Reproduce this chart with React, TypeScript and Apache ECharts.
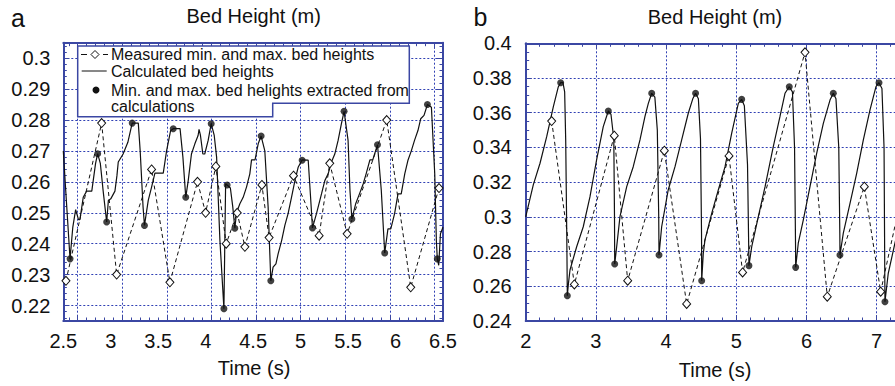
import React, { useEffect, useRef } from "react";
import * as echarts from "echarts";

// ---------- Panel a (left) ----------
const calcLeftT = [2.5, 2.53, 2.571, 2.6, 2.63, 2.66, 2.675, 2.71, 2.746, 2.8, 2.84, 2.862, 2.89, 2.92, 2.957, 2.975, 3.0, 3.044, 3.065, 3.079, 3.13, 3.18, 3.215, 3.226, 3.29, 3.31, 3.34, 3.355, 3.395, 3.43, 3.465, 3.553, 3.588, 3.63, 3.658, 3.73, 3.76, 3.79, 3.816, 3.85, 3.886, 3.92, 3.93, 3.945, 3.97, 3.99, 4.026, 4.058, 4.09, 4.115, 4.15, 4.192, 4.21, 4.226, 4.26, 4.285, 4.307, 4.325, 4.36, 4.395, 4.43, 4.465, 4.483, 4.52, 4.553, 4.584, 4.623, 4.658, 4.686, 4.71, 4.74, 4.763, 4.8, 4.834, 4.868, 4.904, 4.94, 4.974, 5.016, 5.08, 5.105, 5.125, 5.167, 5.22, 5.255, 5.29, 5.325, 5.36, 5.395, 5.43, 5.458, 5.5, 5.52, 5.54, 5.58, 5.62, 5.66, 5.69, 5.73, 5.76, 5.81, 5.85, 5.886, 5.92, 5.95, 5.99, 6.026, 6.06, 6.097, 6.13, 6.167, 6.2, 6.236, 6.265, 6.3, 6.336, 6.378, 6.413, 6.43, 6.44, 6.455, 6.473, 6.5];
const calcLeftV = [0.27, 0.255, 0.2351, 0.2453, 0.251, 0.2478, 0.2478, 0.255, 0.257, 0.257, 0.266, 0.2691, 0.266, 0.257, 0.247, 0.254, 0.2545, 0.257, 0.262, 0.2664, 0.269, 0.2728, 0.2775, 0.279, 0.279, 0.27, 0.252, 0.2459, 0.254, 0.2583, 0.2628, 0.2628, 0.27, 0.2765, 0.2772, 0.2772, 0.268, 0.255, 0.2604, 0.269, 0.2723, 0.275, 0.277, 0.275, 0.269, 0.269, 0.2734, 0.2788, 0.275, 0.268, 0.241, 0.219, 0.2594, 0.259, 0.258, 0.252, 0.245, 0.25, 0.2529, 0.255, 0.2583, 0.2626, 0.2671, 0.2671, 0.2723, 0.2748, 0.27, 0.2518, 0.228, 0.2324, 0.2335, 0.2367, 0.241, 0.2459, 0.2497, 0.255, 0.2604, 0.2647, 0.2671, 0.267, 0.255, 0.2451, 0.2497, 0.2561, 0.2604, 0.2626, 0.2664, 0.269, 0.2734, 0.2788, 0.2828, 0.2734, 0.2572, 0.248, 0.2529, 0.2561, 0.2594, 0.2626, 0.2671, 0.2671, 0.272, 0.2572, 0.237, 0.2448, 0.2448, 0.2497, 0.2561, 0.2561, 0.2626, 0.2669, 0.2701, 0.2734, 0.2766, 0.2804, 0.2815, 0.285, 0.2841, 0.2626, 0.241, 0.2351, 0.233, 0.2432, 0.2453];

const measLeftT = [2.528, 2.904, 3.062, 3.43, 3.623, 3.914, 3.999, 4.107, 4.216, 4.332, 4.413, 4.592, 4.668, 4.925, 5.195, 5.307, 5.49, 5.907, 6.16, 6.458];
const measLeftV = [0.228, 0.279, 0.23, 0.264, 0.2275, 0.26, 0.25, 0.265, 0.24, 0.25, 0.239, 0.259, 0.242, 0.262, 0.2426, 0.266, 0.2432, 0.28, 0.2259, 0.258];

const extLeftT = [2.571, 2.862, 2.957, 3.226, 3.355, 3.658, 3.79, 4.058, 4.192, 4.226, 4.307, 4.584, 4.686, 5.016, 5.125, 5.458, 5.54, 5.81, 5.886, 6.336, 6.44];
const extLeftV = [0.2351, 0.2691, 0.247, 0.279, 0.2459, 0.2772, 0.255, 0.2788, 0.219, 0.259, 0.245, 0.2748, 0.228, 0.267, 0.2451, 0.2828, 0.248, 0.272, 0.237, 0.285, 0.2351];

// ---------- Panel b (right) ----------
const calcRightT = [2.0, 2.108, 2.204, 2.299, 2.394, 2.465, 2.498, 2.53, 2.555, 2.57, 2.585, 2.593, 2.61, 2.631, 2.726, 2.82, 2.916, 3.01, 3.105, 3.177, 3.215, 3.255, 3.265, 3.268, 3.296, 3.343, 3.439, 3.532, 3.628, 3.7, 3.747, 3.795, 3.84, 3.875, 3.895, 3.899, 3.937, 4.03, 4.127, 4.222, 4.316, 4.38, 4.42, 4.46, 4.49, 4.505, 4.507, 4.53, 4.554, 4.65, 4.744, 4.84, 4.934, 5.029, 5.077, 5.115, 5.16, 5.178, 5.18, 5.22, 5.314, 5.41, 5.527, 5.622, 5.694, 5.755, 5.8, 5.83, 5.845, 5.846, 5.883, 5.955, 6.05, 6.145, 6.24, 6.335, 6.382, 6.42, 6.46, 6.475, 6.477, 6.524, 6.62, 6.715, 6.81, 6.905, 6.99, 7.033, 7.075, 7.105, 7.115, 7.118, 7.165, 7.26, 7.35];
const calcRightV = [0.3, 0.3184, 0.3309, 0.3462, 0.3635, 0.375, 0.3773, 0.3775, 0.372, 0.344, 0.29, 0.2546, 0.262, 0.2694, 0.2828, 0.2943, 0.3116, 0.3328, 0.352, 0.361, 0.359, 0.345, 0.3, 0.2728, 0.2828, 0.3001, 0.3174, 0.3289, 0.3443, 0.358, 0.3654, 0.3712, 0.369, 0.35, 0.3, 0.278, 0.2943, 0.3155, 0.3289, 0.3443, 0.3597, 0.368, 0.3712, 0.368, 0.345, 0.29, 0.2632, 0.279, 0.2867, 0.302, 0.3155, 0.3289, 0.3481, 0.3654, 0.3677, 0.364, 0.33, 0.28, 0.2719, 0.2828, 0.3001, 0.3174, 0.3404, 0.3577, 0.3712, 0.375, 0.372, 0.34, 0.28, 0.2709, 0.2848, 0.2982, 0.3174, 0.3366, 0.3539, 0.3673, 0.3712, 0.368, 0.34, 0.29, 0.278, 0.2905, 0.3078, 0.3251, 0.3443, 0.3616, 0.375, 0.3773, 0.374, 0.34, 0.27, 0.2511, 0.2675, 0.2848, 0.3];

const measRightT = [2.37, 2.693, 3.262, 3.453, 3.975, 4.293, 4.896, 5.09, 5.979, 6.296, 6.824, 7.057, 7.45];
const measRightV = [0.3552, 0.2611, 0.3468, 0.2632, 0.3381, 0.2498, 0.3351, 0.268, 0.3948, 0.254, 0.3174, 0.2569, 0.33];

const extRightT = [2.498, 2.593, 3.177, 3.268, 3.795, 3.899, 4.42, 4.507, 5.077, 5.18, 5.755, 5.846, 6.382, 6.477, 7.033, 7.118];
const extRightV = [0.3773, 0.2546, 0.361, 0.2728, 0.3712, 0.278, 0.3712, 0.2632, 0.3677, 0.2719, 0.375, 0.2709, 0.3712, 0.278, 0.3773, 0.2511];

// ---------- texts ----------
const panelLetters = ["a", "b"];
const panelTitle = "Bed Height (m)";
const xTitle = "Time (s)";
const legendTexts = [
  "Measured min. and max. bed heights",
  "Calculated bed heights",
  "Min. and max. bed helights extracted from",
  "calculations",
];

const FONT = "Liberation Sans, Arial, Helvetica, sans-serif";
const FRAME = "#3b47a3";
const GRID = "#3040b4";
const INK = "#111111";

const zip = (t: number[], v: number[]) => t.map((x, i) => [x, v[i]]);

export default function App() {
  const ref = useRef<HTMLDivElement>(null);
  useEffect(() => {
    if (!ref.current) return;
    const chart = echarts.init(ref.current, null, { renderer: "svg" });

    const frameLine = { show: true, onZero: false, lineStyle: { color: FRAME, width: 2 } };
    const tick = { show: true, inside: true, length: 6, lineStyle: { color: FRAME, width: 1 } };
    const minor = (n: number) => ({ show: true, splitNumber: n, length: 3.5, lineStyle: { color: FRAME, width: 1 } });
    const dotted = { show: true, showMinLine: false, showMaxLine: false, lineStyle: { color: GRID, width: 1, type: [2, 2] } };
    const label = { fontSize: 20, color: INK, fontFamily: FONT };

    const hundredths = (v: number) => {
      const k = v * 100;
      if (Math.abs(k - Math.round(k)) > 1e-6) return "";
      return String(+v.toFixed(2));
    };

    const option: any = {
      animation: false,
      backgroundColor: "#ffffff",
      grid: [
        { left: 63.3, top: 42.7, width: 379.7, height: 278.3 },
        { left: 525.7, top: 43.3, width: 369.3, height: 277.7 },
      ],
      xAxis: [
        {
          gridIndex: 0, type: "value", position: "bottom", min: 2.5, max: 6.5, interval: 0.5,
          axisLine: frameLine, axisTick: { show: false }, splitLine: { show: false },
          axisLabel: { ...label, margin: 10 },
        },
        {
          gridIndex: 0, type: "value", position: "bottom", min: -0.3229, max: 8.19, splitNumber: 8,
          axisLine: { show: false, onZero: false }, axisLabel: { show: false }, axisTick: tick, minorTick: minor(5),
          splitLine: dotted,
        },
        {
          gridIndex: 0, type: "value", position: "top", min: -0.3229, max: 8.19, splitNumber: 8,
          axisLine: frameLine, axisLabel: { show: false }, axisTick: tick, minorTick: minor(5),
          splitLine: { show: false },
        },
        {
          gridIndex: 1, type: "value", position: "bottom", min: 2, max: 7.261, interval: 1,
          axisLine: frameLine, axisTick: tick, minorTick: minor(5), splitLine: dotted,
          axisLabel: { ...label, margin: 10, showMaxLabel: false, formatter: (v: number) => (Number.isInteger(v) ? String(v) : "") },
        },
        {
          gridIndex: 1, type: "value", position: "top", min: 2, max: 7.261, interval: 1,
          axisLine: frameLine, axisTick: tick, minorTick: minor(5), splitLine: { show: false },
          axisLabel: { show: false },
        },
      ],
      yAxis: [
        {
          gridIndex: 0, type: "value", position: "left", min: 0.215, max: 0.305, splitNumber: 9,
          axisLine: frameLine, axisTick: tick, minorTick: minor(5), splitLine: dotted,
          axisLabel: { ...label, margin: 13, padding: [0, 0, 4, 0], formatter: hundredths },
        },
        {
          gridIndex: 0, type: "value", position: "right", min: 0.215, max: 0.305, splitNumber: 9,
          axisLine: frameLine, axisTick: tick, minorTick: minor(5), splitLine: { show: false },
          axisLabel: { show: false },
        },
        {
          gridIndex: 1, type: "value", position: "left", min: 0.24, max: 0.4, interval: 0.02,
          axisLine: frameLine, axisTick: tick, minorTick: minor(4), splitLine: dotted,
          axisLabel: { ...label, margin: 14, formatter: (v: number) => String(+v.toFixed(2)) },
        },
      ],
      series: [
        {
          name: "Calculated bed heights (a)", type: "line", xAxisIndex: 0, yAxisIndex: 0,
          data: zip(calcLeftT, calcLeftV), showSymbol: false, z: 2,
          lineStyle: { color: INK, width: 1.2 },
        },
        {
          name: "Measured (a)", type: "line", xAxisIndex: 0, yAxisIndex: 0,
          data: zip(measLeftT, measLeftV), symbol: "diamond", symbolSize: [8, 9], z: 3,
          lineStyle: { color: INK, width: 1, type: [4, 3] },
          itemStyle: { color: "#ffffff", borderColor: INK, borderWidth: 1 },
        },
        {
          name: "Extracted (a)", type: "scatter", xAxisIndex: 0, yAxisIndex: 0,
          data: zip(extLeftT, extLeftV), symbol: "circle", symbolSize: 7, z: 4,
          itemStyle: { color: INK },
        },
        {
          name: "Calculated bed heights (b)", type: "line", xAxisIndex: 3, yAxisIndex: 2,
          data: zip(calcRightT, calcRightV), showSymbol: false, z: 2,
          lineStyle: { color: INK, width: 1.2 },
        },
        {
          name: "Measured (b)", type: "line", xAxisIndex: 3, yAxisIndex: 2,
          data: zip(measRightT, measRightV), symbol: "diamond", symbolSize: [8, 9], z: 3,
          lineStyle: { color: INK, width: 1, type: [4, 3] },
          itemStyle: { color: "#ffffff", borderColor: INK, borderWidth: 1 },
        },
        {
          name: "Extracted (b)", type: "scatter", xAxisIndex: 3, yAxisIndex: 2,
          data: zip(extRightT, extRightV), symbol: "circle", symbolSize: 7, z: 4,
          itemStyle: { color: INK },
        },
      ],
      graphic: [
        { type: "text", x: 18, y: 18, z: 50, style: { text: panelLetters[0], font: `25px ${FONT}`, fill: INK, textAlign: "center", textVerticalAlign: "middle" } },
        { type: "text", x: 480.5, y: 17, z: 50, style: { text: panelLetters[1], font: `25px ${FONT}`, fill: INK, textAlign: "center", textVerticalAlign: "middle" } },
        { type: "text", x: 253.7, y: 16, z: 50, style: { text: panelTitle, font: `20px ${FONT}`, fill: INK, textAlign: "center", textVerticalAlign: "middle" } },
        { type: "text", x: 715, y: 17, z: 50, style: { text: panelTitle, font: `20px ${FONT}`, fill: INK, textAlign: "center", textVerticalAlign: "middle" } },
        { type: "text", x: 254, y: 368, z: 50, style: { text: xTitle, font: `20px ${FONT}`, fill: INK, textAlign: "center", textVerticalAlign: "middle" } },
        { type: "text", x: 715, y: 370, z: 50, style: { text: xTitle, font: `20px ${FONT}`, fill: INK, textAlign: "center", textVerticalAlign: "middle" } },
        {
          type: "group", z: 100,
          children: [
            {
              type: "polygon", z: 100,
              shape: { points: [[77.7, 46], [409.3, 46], [409.3, 103.3], [272.7, 103.3], [272.7, 116.7], [77.7, 116.7]] },
              style: { fill: "#ffffff", stroke: FRAME, lineWidth: 1.5 },
            },
            { type: "line", z: 101, shape: { x1: 81, y1: 54.5, x2: 87, y2: 54.5 }, style: { stroke: INK, lineWidth: 1 } },
            { type: "polygon", z: 101, shape: { points: [[95, 50.5], [99, 54.5], [95, 58.5], [91, 54.5]] }, style: { fill: "#ffffff", stroke: INK, lineWidth: 1 } },
            { type: "line", z: 101, shape: { x1: 103, y1: 54.5, x2: 108, y2: 54.5 }, style: { stroke: INK, lineWidth: 1 } },
            { type: "line", z: 101, shape: { x1: 81.7, y1: 71, x2: 106.7, y2: 71 }, style: { stroke: INK, lineWidth: 1 } },
            { type: "circle", z: 101, shape: { cx: 96, cy: 90, r: 3.5 }, style: { fill: INK } },
            { type: "text", z: 101, x: 111, y: 54.5, style: { text: legendTexts[0], font: `16px ${FONT}`, fill: INK, textVerticalAlign: "middle" } },
            { type: "text", z: 101, x: 111, y: 71, style: { text: legendTexts[1], font: `16px ${FONT}`, fill: INK, textVerticalAlign: "middle" } },
            { type: "text", z: 101, x: 111, y: 90, style: { text: legendTexts[2], font: `16px ${FONT}`, fill: INK, textVerticalAlign: "middle" } },
            { type: "text", z: 101, x: 111, y: 106.7, style: { text: legendTexts[3], font: `16px ${FONT}`, fill: INK, textVerticalAlign: "middle" } },
          ],
        },
      ],
    };

    chart.setOption(option);
    return () => chart.dispose();
  }, []);

  return (
    <div
      ref={ref}
      style={{ position: "fixed", left: 0, top: 0, width: 895, height: 386, background: "#fff" }}
    />
  );
}
